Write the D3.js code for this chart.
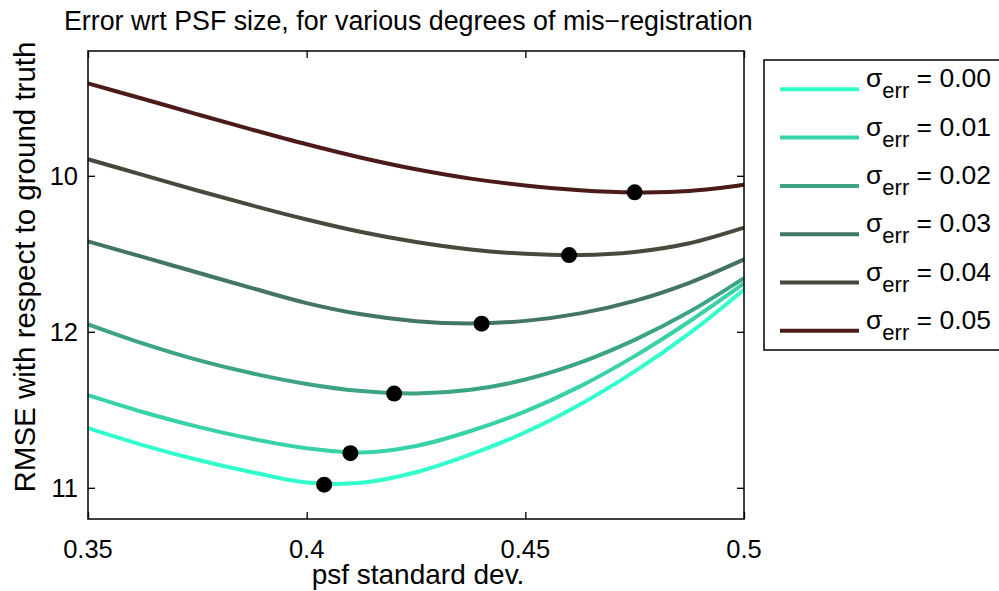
<!DOCTYPE html>
<html>
<head>
<meta charset="utf-8">
<script src="https://cdn.jsdelivr.net/npm/d3@7"></script>
<style>
  body { margin: 0; background: #fff; }
  svg { display: block; font-family: "Liberation Sans", Arial, sans-serif; }
</style>
</head>
<body>
<svg id="chart" width="999" height="591"></svg>
<script>
// psf standard deviation grid (x values)
const psf = [0.35, 0.3625, 0.375, 0.3875, 0.4, 0.4125, 0.425, 0.4375, 0.45, 0.4625, 0.475, 0.4875, 0.5]

// RMSE for each level of mis-registration
const err000 = [10.809, 10.863, 10.910, 10.950, 10.983, 10.984, 10.950, 10.893, 10.822, 10.733, 10.627, 10.505, 10.365]
const err001 = [10.703, 10.757, 10.804, 10.843, 10.873, 10.887, 10.866, 10.818, 10.755, 10.675, 10.578, 10.467, 10.345]
const err002 = [10.476, 10.537, 10.590, 10.633, 10.667, 10.690, 10.698, 10.686, 10.653, 10.599, 10.526, 10.436, 10.328]
const err003 = [10.210, 10.260, 10.310, 10.360, 10.408, 10.444, 10.466, 10.473, 10.465, 10.441, 10.401, 10.343, 10.268]
const err004 = [9.947, 9.997, 10.047, 10.095, 10.140, 10.180, 10.212, 10.236, 10.250, 10.254, 10.244, 10.216, 10.166]
const err005 = [9.704, 9.753, 9.803, 9.852, 9.899, 9.942, 9.979, 10.009, 10.031, 10.046, 10.053, 10.049, 10.029]

// minimum of each curve (black dots)
const minPsf = [0.404, 0.41, 0.42, 0.44, 0.46, 0.475]
const minRmse = [10.990, 10.889, 10.698, 10.474, 10.254, 10.053]

const legendLabels = ['0.00', '0.01', '0.02', '0.03', '0.04', '0.05']
const colors = ['#33ffcc', '#38d1a8', '#3da385', '#437661', '#48483e', '#4d1a1a']

const xTicks = [0.35, 0.4, 0.45, 0.5]
const xTickLabels = ['0.35', '0.4', '0.45', '0.5']
const yTicks = [10, 10.5, 11]
const yTickLabels = ['10', '12', '11']

const series = [err000, err001, err002, err003, err004, err005]

const m = { left: 88, right: 744, top: 51, bottom: 519 }

const x = d3.scaleLinear().domain([0.35, 0.5]).range([m.left, m.right])
const y = d3.scaleLinear().domain([9.6, 11.1]).range([m.top, m.bottom])

const svg = d3.select('#chart')

// curves
const line = d3.line()
    .x((d, i) => x(psf[i]))
    .y(d => y(d))
    .curve(d3.curveCatmullRom.alpha(0.5))

svg.append('g')
    .selectAll('path')
    .data(series)
    .join('path')
    .attr('d', line)
    .attr('fill', 'none')
    .attr('stroke', (d, i) => colors[i])
    .attr('stroke-width', 4)

// minimum markers
svg.append('g')
    .selectAll('circle')
    .data(minPsf)
    .join('circle')
    .attr('cx', d => x(d))
    .attr('cy', (d, i) => y(minRmse[i]))
    .attr('r', 8)
    .attr('fill', '#000')

// axes (ticks point inward, on all four sides like matlab)
const tickLen = 7
const axB = svg.append('g').attr('transform', `translate(0,${m.bottom})`)
    .call(d3.axisTop(x).tickValues(xTicks).tickSize(tickLen).tickFormat(''))
const axT = svg.append('g').attr('transform', `translate(0,${m.top})`)
    .call(d3.axisBottom(x).tickValues(xTicks).tickSize(tickLen).tickFormat(''))
const axL = svg.append('g').attr('transform', `translate(${m.left},0)`)
    .call(d3.axisRight(y).tickValues(yTicks).tickSize(tickLen).tickFormat(''))
const axR = svg.append('g').attr('transform', `translate(${m.right},0)`)
    .call(d3.axisLeft(y).tickValues(yTicks).tickSize(tickLen).tickFormat(''))
for (const ax of [axB, axT, axL, axR]) {
    ax.select('.domain').remove()
    ax.selectAll('line').attr('stroke', '#000').attr('stroke-width', 1.3)
}

svg.append('rect')
    .attr('x', m.left).attr('y', m.top)
    .attr('width', m.right - m.left).attr('height', m.bottom - m.top)
    .attr('fill', 'none').attr('stroke', '#000').attr('stroke-width', 1.5)

// tick labels
svg.append('g')
    .selectAll('text')
    .data(xTicks)
    .join('text')
    .attr('x', d => x(d))
    .attr('y', 558)
    .attr('text-anchor', 'middle')
    .attr('font-size', 25.5)
    .text((d, i) => xTickLabels[i])

svg.append('g')
    .selectAll('text')
    .data(yTicks)
    .join('text')
    .attr('x', 78)
    .attr('y', d => y(d) + 9)
    .attr('text-anchor', 'end')
    .attr('font-size', 25.5)
    .text((d, i) => yTickLabels[i])

// labels + title
svg.append('text')
    .attr('x', (m.left + m.right) / 2 + 2).attr('y', 584)
    .attr('text-anchor', 'middle').attr('font-size', 28)
    .text('psf standard dev.')

svg.append('text')
    .attr('transform', 'translate(35,267) rotate(-90)')
    .attr('text-anchor', 'middle').attr('font-size', 29.5)
    .text('RMSE with respect to ground truth')

svg.append('text')
    .attr('x', 64).attr('y', 30)
    .attr('font-size', 26.8)
    .text('Error wrt PSF size, for various degrees of mis\u2212registration')

// legend
const legend = svg.append('g')
legend.append('rect')
    .attr('x', 764).attr('y', 60)
    .attr('width', 240).attr('height', 290)
    .attr('fill', '#fff').attr('stroke', '#000').attr('stroke-width', 1.5)

const rows = legend.selectAll('g.row')
    .data(legendLabels)
    .join('g')
    .attr('class', 'row')
    .attr('transform', (d, i) => `translate(0,${89.3 + i * 48.3})`)

rows.append('line')
    .attr('x1', 780).attr('x2', 859)
    .attr('stroke', (d, i) => colors[i])
    .attr('stroke-width', 4)

const lt = rows.append('text')
    .attr('x', 866).attr('y', -2)
    .attr('font-size', 26.5)
lt.append('tspan').text('\u03c3')
lt.append('tspan').attr('font-size', 22).attr('dy', 11).text('err')
lt.append('tspan').attr('dy', -11).text(d => ' = ' + d)
</script>
</body>
</html>
